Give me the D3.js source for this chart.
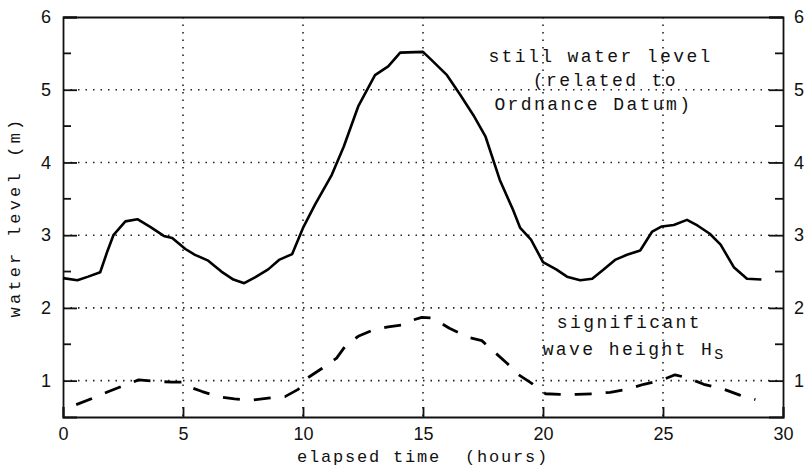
<!DOCTYPE html>
<html>
<head>
<meta charset="utf-8">
<script src="https://cdn.jsdelivr.net/npm/d3@7"></script>
<style>
  body { margin: 0; background: #fff; }
  .tick-label { font-family: "Liberation Sans", sans-serif; font-size: 18px; fill: #111; }
  .mono { font-family: "Liberation Mono", monospace; font-size: 18px; fill: #111; letter-spacing: 2.4px; }
  .title { font-family: "Liberation Mono", monospace; font-size: 17px; fill: #111; letter-spacing: 1.8px; }
</style>
</head>
<body>
<div id="chart"></div>
<script>
// still water level (m OD) against elapsed time (hours)
var waterTime = [0, 0.6, 1.05, 1.55, 1.85, 2.1, 2.6, 3.1, 3.65, 4.2, 4.55, 5.1, 5.5, 6.05, 6.6, 7.1, 7.55, 8.0, 8.55, 9.0, 9.55, 10.0, 10.5, 11.2, 11.7, 12.3, 13.0, 13.55, 14.05, 15.0, 15.35, 16.0, 16.55, 17.1, 17.6, 18.2, 18.75, 19.05, 19.5, 20.0, 20.55, 21.0, 21.55, 22.05, 22.5, 23.0, 23.5, 24.05, 24.55, 24.95, 25.45, 26.0, 26.45, 26.95, 27.4, 27.95, 28.5, 29.1];
var waterLevel = [2.41, 2.38, 2.43, 2.49, 2.78, 3.0, 3.19, 3.22, 3.11, 2.99, 2.96, 2.81, 2.73, 2.65, 2.50, 2.39, 2.34, 2.42, 2.53, 2.66, 2.74, 3.1, 3.42, 3.83, 4.22, 4.77, 5.2, 5.32, 5.51, 5.52, 5.41, 5.2, 4.93, 4.65, 4.36, 3.76, 3.35, 3.1, 2.94, 2.63, 2.53, 2.43, 2.38, 2.40, 2.52, 2.66, 2.73, 2.79, 3.05, 3.12, 3.14, 3.21, 3.13, 3.02, 2.87, 2.56, 2.40, 2.39];

// significant wave height Hs (m)
var waveTime = [0.55, 1.25, 1.9, 2.6, 3.15, 3.85, 4.55, 5.0, 5.2, 5.8, 6.45, 7.15, 7.85, 8.55, 9.25, 9.8, 10.2, 10.8, 11.4, 11.75, 12.3, 12.95, 13.55, 14.2, 14.55, 14.95, 15.4, 16.1, 16.95, 17.45, 17.85, 18.5, 18.9, 19.5, 20.1, 20.7, 21.4, 22.1, 22.8, 23.5, 24.2, 24.9, 25.5, 26.0, 26.7, 27.55, 28.2, 28.85];
var waveHeight = [0.67, 0.76, 0.85, 0.94, 1.01, 0.99, 0.98, 0.98, 0.92, 0.85, 0.78, 0.75, 0.73, 0.76, 0.78, 0.88, 1.04, 1.17, 1.31, 1.47, 1.61, 1.70, 1.74, 1.77, 1.83, 1.87, 1.86, 1.72, 1.59, 1.55, 1.43, 1.24, 1.10, 0.97, 0.82, 0.81, 0.81, 0.82, 0.84, 0.88, 0.95, 1.0, 1.08, 1.04, 0.95, 0.88, 0.80, 0.74];

var xTicks = [0, 5, 10, 15, 20, 25, 30];
var yTicks = [1, 2, 3, 4, 5, 6];
var yMinorTicks = [1.5, 2.5, 3.5, 4.5, 5.5];

var svgWidth = 808;
var svgHeight = 473;
var margin = { top: 17, right: 25, bottom: 56, left: 63 };
var width = svgWidth - margin.left - margin.right;
var height = svgHeight - margin.top - margin.bottom;

var svg = d3.select("#chart")
    .append("svg")
    .attr("width", svgWidth)
    .attr("height", svgHeight);

var chartGroup = svg.append("g")
    .attr("transform", `translate(${margin.left}, ${margin.top})`);

var xScale = d3.scaleLinear().domain([0, 30]).range([0, width]);
var yScale = d3.scaleLinear().domain([0.5, 6]).range([height, 0]);

// dotted grid
chartGroup.append("g").selectAll("line")
    .data(xTicks.slice(1, -1))
    .enter().append("line")
    .attr("x1", d => xScale(d)).attr("x2", d => xScale(d))
    .attr("y1", 0).attr("y2", height)
    .attr("stroke", "#222").attr("stroke-width", 1.6)
    .attr("stroke-dasharray", "1.5,6");

chartGroup.append("g").selectAll("line")
    .data(yTicks.slice(0, -1))
    .enter().append("line")
    .attr("x1", 0).attr("x2", width)
    .attr("y1", d => yScale(d)).attr("y2", d => yScale(d))
    .attr("stroke", "#222").attr("stroke-width", 1.6)
    .attr("stroke-dasharray", "1.5,6");

// axes (ticks pointing inward)
var leftAxis = d3.axisLeft(yScale).tickValues(yTicks).tickSize(-14).tickFormat(d3.format("d")).tickPadding(12);
var rightAxis = d3.axisRight(yScale).tickValues(yTicks).tickSize(-14).tickFormat(d3.format("d")).tickPadding(11);
var bottomAxis = d3.axisBottom(xScale).tickValues(xTicks).tickSize(-10).tickFormat(d3.format("d")).tickPadding(10);
var topAxis = d3.axisTop(xScale).tickValues([]).tickSize(0);

function styleAxis(g) {
    g.select(".domain").attr("stroke", "#111").attr("stroke-width", 1.8);
    g.selectAll(".tick line").attr("stroke", "#111").attr("stroke-width", 1.8);
    g.selectAll(".tick text").attr("class", "tick-label").attr("fill", "#111");
}

chartGroup.append("g").call(leftAxis).call(styleAxis);
chartGroup.append("g").attr("transform", `translate(${width}, 0)`).call(rightAxis).call(styleAxis);
chartGroup.append("g").attr("transform", `translate(0, ${height})`).call(bottomAxis).call(styleAxis);
chartGroup.append("g").call(topAxis).call(styleAxis);

// minor ticks on both y axes
chartGroup.append("g").selectAll("line")
    .data(yMinorTicks)
    .enter().append("line")
    .attr("x1", 0).attr("x2", 8)
    .attr("y1", d => yScale(d)).attr("y2", d => yScale(d))
    .attr("stroke", "#111").attr("stroke-width", 1.8);
chartGroup.append("g").selectAll("line")
    .data(yMinorTicks)
    .enter().append("line")
    .attr("x1", width - 8).attr("x2", width)
    .attr("y1", d => yScale(d)).attr("y2", d => yScale(d))
    .attr("stroke", "#111").attr("stroke-width", 1.8);

// series
var waterData = waterTime.map((t, i) => ({ t: t, v: waterLevel[i] }));
var waveData = waveTime.map((t, i) => ({ t: t, v: waveHeight[i] }));

var line = d3.line()
    .x(d => xScale(d.t))
    .y(d => yScale(d.v));

chartGroup.append("path")
    .datum(waterData)
    .attr("d", line)
    .attr("fill", "none")
    .attr("stroke", "#000")
    .attr("stroke-width", 2.6)
    .attr("stroke-linejoin", "round");

chartGroup.append("path")
    .datum(waveData)
    .attr("d", line)
    .attr("fill", "none")
    .attr("stroke", "#000")
    .attr("stroke-width", 2.8)
    .attr("stroke-dasharray", "17,14")
    .attr("stroke-linejoin", "round");

// annotations
var note1 = chartGroup.append("text")
    .attr("class", "mono")
    .attr("text-anchor", "middle")
    .attr("y", yScale(5.38));
note1.append("tspan").attr("x", xScale(22.4)).text("still water level");
note1.append("tspan").attr("x", xScale(22.6)).attr("dy", 24).text("(related to");
note1.append("tspan").attr("x", xScale(22.1)).attr("dy", 24).text("Ordnance Datum)");

var note2 = chartGroup.append("text")
    .attr("class", "mono")
    .attr("text-anchor", "middle")
    .attr("y", yScale(1.73));
note2.append("tspan").attr("x", xScale(23.6)).text("significant");
var l2 = note2.append("tspan").attr("x", xScale(23.8)).attr("dy", 27).text("wave height H");
l2.append("tspan").attr("dy", 4).style("font-size", "15px").text("S");

// axis titles
svg.append("text")
    .attr("class", "title")
    .attr("text-anchor", "middle")
    .attr("x", margin.left + width / 2)
    .attr("y", 462)
    .attr("xml:space", "preserve")
    .text("elapsed time  (hours)");

svg.append("text")
    .attr("class", "title")
    .attr("text-anchor", "middle")
    .style("letter-spacing", "3.2px")
    .attr("transform", `translate(20, ${margin.top + height / 2}) rotate(-90)`)
    .text("water level (m)");
</script>
</body>
</html>
